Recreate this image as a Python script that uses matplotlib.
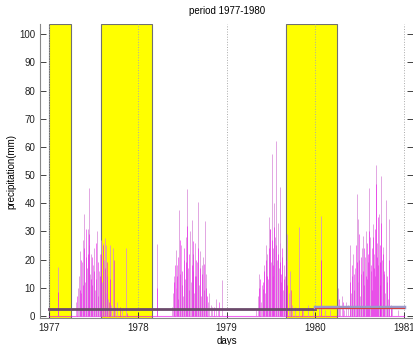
import numpy as np
import matplotlib
matplotlib.use("Agg")
import matplotlib.pyplot as plt

plt.rcParams["font.family"] = ["Liberation Sans", "DejaVu Sans"]

# days since 1977-01-01
n_days = 1461
year_ticks = [0, 365, 730, 1095, 1461]
year_labels = ["1977", "1978", "1979", "1980", "1981"]

# yellow periods (start day, end day)
dry_periods = [(0, 90), (212, 424), (973, 1186)]

# observed rainfall (light pink), wet days only
obs_days = [38,
            112, 118, 124, 128, 133, 137, 141, 145, 149, 152, 156, 160, 162, 166, 170, 173, 177,
            181, 185, 189, 193, 197, 201, 205, 208, 212, 216, 220, 224, 228, 232, 236, 240, 244,
            250, 255, 262, 270, 280, 300, 317,
            442, 505, 510, 515, 520, 524, 528, 532, 536, 540, 544, 548, 552, 556, 560, 564, 567,
            571, 575, 579, 583, 586, 590, 594, 598, 602, 606, 610, 614, 618, 622, 626, 630, 635,
            639, 642, 647, 652, 658, 665, 672, 686, 695, 711,
            850, 858, 865, 870, 875, 882, 886, 890, 894, 898, 902, 906, 909, 913, 916, 920, 923,
            926, 930, 934, 938, 942, 946, 949, 952, 956, 960, 964, 968, 972, 978, 985, 992, 1000,
            1010, 1030, 1045, 1067, 1085, 1110, 1120, 1135, 1156,
            1188, 1195, 1207, 1215, 1222, 1230, 1236, 1243, 1248, 1252, 1256, 1260, 1266, 1270,
            1273, 1277, 1281, 1285, 1289, 1293, 1297, 1300, 1304, 1308, 1312, 1318, 1321, 1325,
            1328, 1332, 1336, 1340, 1346, 1350, 1354, 1358, 1362, 1365, 1369, 1373, 1377, 1381,
            1387, 1391, 1395, 1400, 1405, 1410, 1436]
obs_vals = [17.5,
            5, 10, 14, 23, 8, 19, 27, 36, 12, 21, 17, 31, 45.5, 25, 15, 22, 11,
            18, 24, 9, 13, 30, 7, 16, 22, 27, 12, 26, 20, 27.5, 8, 25, 14, 6,
            25, 4, 24, 3, 5, 2, 24,
            25.6, 3, 8, 14, 23.5, 10, 18, 6, 37.7, 15, 25, 11, 7, 20, 13, 28, 45,
            17, 9, 30, 12, 34, 22, 16, 8, 26, 14, 19, 40.3, 11, 23, 7, 18, 21,
            9, 33.6, 15, 5, 8, 4, 3, 6, 2, 12.8,
            2, 7, 15, 5, 11, 9.6, 18, 8, 25, 22, 13, 35, 31, 19, 57.5, 24, 14,
            40, 28, 62, 20, 33, 17, 26, 45.7, 12, 21, 9, 18, 14, 29, 8, 16, 4,
            3, 31.4, 2, 4, 2, 3, 35.6, 2, 2,
            10, 3, 7, 2, 5, 4, 25, 8, 14, 22, 9, 17, 43.3, 12,
            34.4, 20, 7, 15, 24, 28.5, 11, 21, 30, 13, 19, 45.4, 27.9, 16,
            9, 32.7, 22, 14, 53.4, 26, 18, 36, 11, 49.8, 20, 24.3, 15, 8,
            41, 12, 6, 34.4, 4, 3, 2]

# simulated rainfall (magenta), wet days only
sim_days = [38,
            115, 126, 130, 139, 143, 150, 158, 164, 172, 176, 184,
            192, 200, 210, 214, 222, 230, 238, 246, 252, 266,
            290, 320,
            442, 513, 518, 526, 530, 538, 546, 554, 562, 569,
            577, 588, 592, 600, 604, 612, 620, 628, 637, 644, 650,
            680, 700,
            862, 868, 879, 884, 892, 896, 904, 909, 918, 921, 926,
            932, 940, 948, 954, 958, 966, 975, 980, 995, 1040,
            1120,
            1192, 1210, 1238, 1245, 1255, 1262, 1268, 1275, 1283,
            1291, 1295, 1302, 1306, 1314, 1316, 1323, 1327, 1334, 1338, 1342, 1344,
            1348, 1352, 1360, 1363, 1367, 1375, 1379, 1389, 1398,
            1408]
sim_vals = [8.5,
            7, 9, 20, 11, 24, 31, 22, 29, 13, 21, 16,
            26, 19, 14, 22, 25, 17, 19, 5, 13, 20,
            3, 1,
            10, 12, 18, 14, 21, 27, 16, 24, 19, 32,
            22, 18, 26.7, 14, 20, 24, 17, 15, 18.5, 10, 7,
            3, 5,
            10, 13, 12, 16, 20, 14, 24, 31, 27, 18, 31.4,
            25, 22, 19, 15, 24, 13, 20, 11, 9, 2,
            20,
            6, 5, 12, 18, 15, 25, 19, 29, 21,
            16, 24, 14, 26, 22, 30, 18, 24, 28, 17, 31, 47,
            21, 35, 25, 19, 33, 22, 16, 14, 20,
            3]

# mean levels
mean_early = 2.6     # 1977-1979
mean_late_obs = 3.3  # 1980
mean_late_sim = 2.7

fig = plt.figure(figsize=(4.14, 3.45), dpi=100)
ax = fig.add_axes([0.097, 0.078, 0.901, 0.852])

for start, end in dry_periods:
    ax.axvspan(start, end, facecolor="#ffff00", edgecolor="#707070", lw=0.8, zorder=0)

# zero baseline of the daily series
ax.plot([0, n_days - 1], [0, 0], color="#ee00ee", alpha=0.6, lw=0.8, zorder=2)

ax.vlines(obs_days, 0, obs_vals, color="#d888d8", alpha=0.75, lw=0.7, zorder=2)
ax.vlines(sim_days, 0, sim_vals, color="#ee00ee", alpha=0.75, lw=0.5, zorder=3)

ax.plot([0, 1096], [mean_early, mean_early], color="#6b4a6b", lw=2, zorder=4)
ax.plot([1096, 1461], [mean_late_obs, mean_late_obs], color="#9a9acc", lw=2.5, zorder=4)
ax.plot([1096, 1461], [mean_late_sim, mean_late_sim], color="#d04040", lw=0.8, zorder=5)

ax.set_xlim(-37, 1498)
ax.set_ylim(-0.8, 103.6)
ax.set_xticks(year_ticks)
ax.set_xticklabels(year_labels)
ax.set_yticks(range(0, 101, 10))
ax.tick_params(direction="in", length=4, labelsize=7, colors="#222222",
               right=True, top=False, width=0.6)
for side in ["left", "bottom"]:
    ax.spines[side].set_color("#888888")
    ax.spines[side].set_linewidth(0.8)
ax.spines["top"].set_visible(False)
ax.spines["right"].set_visible(False)
ax.grid(axis="x", color="#aaaaaa", ls=":", lw=0.7)

ax.set_title("period 1977-1980", fontsize=7, pad=7)
ax.set_xlabel("days", fontsize=7, labelpad=2)
ax.set_ylabel("precipitation(mm)", fontsize=7, labelpad=2)

fig.savefig("out.png", dpi=100)
